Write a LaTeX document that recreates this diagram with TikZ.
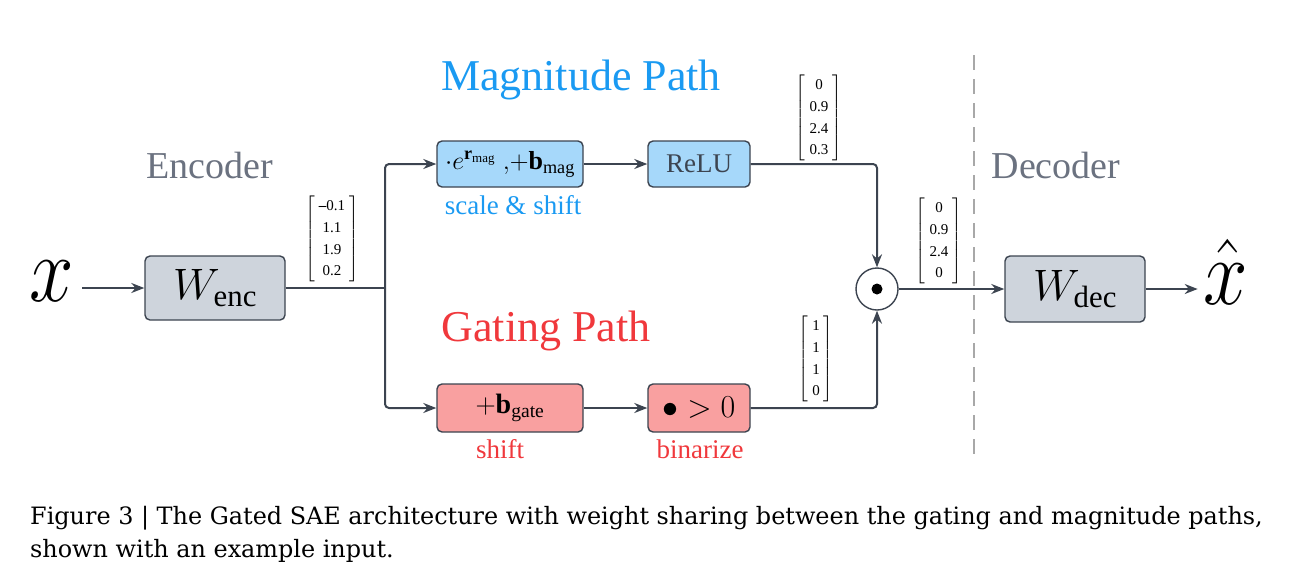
\documentclass[tikz,border=0pt]{standalone}
\usepackage{fix-cm}
\usepackage{amsmath}
\usepackage{fontspec}
\setmainfont{Liberation Serif}
\newfontfamily\capfont{DejaVu Serif}
\usetikzlibrary{arrows.meta}
\definecolor{linec}{HTML}{3C4450}
\definecolor{grayfill}{HTML}{CED4DC}
\definecolor{bluefill}{HTML}{A6D8FA}
\definecolor{redfill}{HTML}{F9A0A0}
\definecolor{bluetxt}{HTML}{1A9AF2}
\definecolor{redtxt}{HTML}{F0383C}
\definecolor{graytxt}{HTML}{6B7280}
\definecolor{dashc}{HTML}{A8A8A8}
\tikzset{
  boxbase/.style={draw=linec, line width=1.4pt, rounded corners=5pt, inner sep=0pt},
  graybox/.style={boxbase, fill=grayfill, minimum width=140pt, minimum height=64pt},
  bluebox/.style={boxbase, fill=bluefill, minimum height=46pt},
  redbox/.style={boxbase, fill=redfill, minimum height=48pt},
  conn/.style={draw=linec, line width=2pt},
  arr/.style={conn, -{Stealth[length=13pt,width=10pt]}},
  vec/.style={inner sep=0pt, font=\fontsize{15}{15}\selectfont},
  pathlbl/.style={font=\fontsize{44}{44}\selectfont},
  seclbl/.style={font=\fontsize{38}{38}\selectfont, text=graytxt},
  sublbl/.style={font=\fontsize{27}{27}\selectfont},
  bigvar/.style={inner sep=0pt, font=\fontsize{94}{94}\selectfont},
}
\newcommand{\myvec}[4]{$\renewcommand{\arraystretch}{1.45}\left[\begin{array}{@{\;}c@{\;}}\text{#1}\\\text{#2}\\\text{#3}\\\text{#4}\end{array}\right]$}
\begin{document}
\begin{tikzpicture}[x=1pt,y=-1pt]
\useasboundingbox (0,0) rectangle (1295,582);
% labels
\node[seclbl] (enclbl) at (210,165) {Encoder};
\node[seclbl] (declbl) at (1056,165) {Decoder};
\node[pathlbl, text=bluetxt] (maglbl) at (581,80) {Magnitude Path};
\node[pathlbl, text=redtxt] (gatelbl) at (546,331) {Gating Path};
% input
\node[bigvar] (x) at (52,281) {\scalebox{0.85}[1]{$x$}};
\node[graybox] (wenc) at (215,288) {\fontsize{44}{44}\selectfont$W_{\text{enc}}$};
\coordinate (split) at (385,288);
% magnitude path
\node[bluebox, minimum width=146pt] (scale) at (510,164) {\fontsize{26}{26}\selectfont$\cdot e^{\mathbf{r}_{\text{mag}}}\;,\!+\mathbf{b}_{\text{mag}}$};
\node[bluebox, minimum width=102pt, text=linec, font=\fontsize{27}{27}\selectfont] (relu) at (699,164) {ReLU};
\node[sublbl, text=bluetxt] (scalelbl) at (513,205) {scale \& shift};
% gating path
\node[redbox, minimum width=146pt] (gate) at (510,408) {\fontsize{28}{28}\selectfont$+\mathbf{b}_{\text{gate}}$};
\node[redbox, minimum width=102pt] (bin) at (699,408) {\fontsize{32}{32}\selectfont$\bullet>0$};
\node[sublbl, text=redtxt] (shiftlbl) at (500,449) {shift};
\node[sublbl, text=redtxt] (binlbl) at (700,449) {binarize};
% product
\node[draw=linec, line width=1.4pt, circle, minimum size=42pt, inner sep=0pt, fill=white] (prod) at (877,289) {};
\fill[black] (prod.center) circle (5.5pt);
% decoder
\node[graybox, minimum height=66pt] (wdec) at (1075,289) {\fontsize{44}{44}\selectfont$W_{\text{dec}}$};
\node[bigvar] (xhat) at (1226,272) {\scalebox{0.85}[1]{$\hat{x}$}};
% vectors
\node[vec] (v1) at (332,239) {\myvec{\textbf{--}0.1}{1.1}{1.9}{0.2}};
\node[vec] (v2) at (819,118) {\myvec{0}{0.9}{2.4}{0.3}};
\node[vec] (v3) at (816,359) {\myvec{1}{1}{1}{0}};
\node[vec] (v4) at (939,241) {\myvec{0}{0.9}{2.4}{0}};
% dashed divider
\coordinate (dtop) at (974,55);
\coordinate (dbot) at (974,460);
\draw[dashc, line width=2pt, dash pattern=on 15pt off 9pt] (dtop) -- (dbot);
% connectors
\draw[arr] (x.east |- 0,288) ++(8,0) -- (wenc.west);
\draw[conn] (wenc.east) -- (split);
\draw[arr, rounded corners=4pt] (split) |- (scale.west);
\draw[arr, rounded corners=4pt] (split) |- (gate.west);
\draw[arr] (scale.east) -- (relu.west);
\draw[arr] (gate.east) -- (bin.west);
\draw[arr, rounded corners=4pt] (relu.east) -| (prod.north);
\draw[arr, rounded corners=4pt] (bin.east) -| (prod.south);
\draw[arr] (prod.east) -- (wdec.west |- prod.east);
\draw[arr] (wdec.east) -- ++(52,0) coordinate (xhatin);
% caption
\node[anchor=west, inner sep=0pt, font=\capfont\fontsize{23.9}{23.9}\selectfont] (cap1) at (30,518) {Figure 3 | The Gated SAE architecture with weight sharing between the gating and magnitude paths,};
\node[anchor=west, inner sep=0pt, font=\capfont\fontsize{23.9}{23.9}\selectfont] (cap2) at (30,551) {shown with an example input.};
\end{tikzpicture}
\end{document}
